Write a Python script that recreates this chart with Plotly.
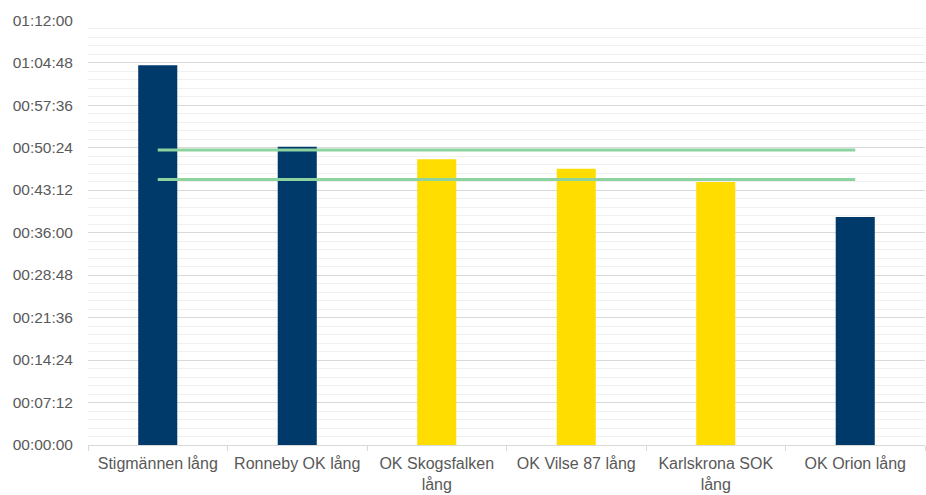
import plotly.graph_objects as go

categories = ["Stigmännen lång", "Ronneby OK lång", "OK Skogsfalken<br>lång",
              "OK Vilse 87 lång", "Karlskrona SOK<br>lång", "OK Orion lång"]
# times in seconds
bar_values = [3862, 3032, 2904, 2809, 2673, 2318]
bar_colors = ["#003A6A", "#003A6A", "#FFDD00", "#FFDD00", "#FFDD00", "#003A6A"]
line_upper = [3000, 3000]
line_lower = [2700, 2700]
tick_labels = ["00:00:00", "00:07:12", "00:14:24", "00:21:36", "00:28:48", "00:36:00",
               "00:43:12", "00:50:24", "00:57:36", "01:04:48", "01:12:00"]


def to_sec(s):
    h, m, sec = (int(p) for p in s.split(":"))
    return h * 3600 + m * 60 + sec


tick_vals = [to_sec(t) for t in tick_labels]

fig = go.Figure()
fig.add_trace(go.Bar(x=categories, y=bar_values, marker_color=bar_colors,
                     marker_line_width=0, width=0.28, showlegend=False,
                     hoverinfo="skip"))
for vals in (line_upper, line_lower):
    fig.add_trace(go.Scatter(x=[categories[0], categories[-1]], y=vals, mode="lines",
                             line=dict(color="#8CD3A0", width=3), showlegend=False,
                             hoverinfo="skip"))

fig.update_layout(
    width=926, height=495,
    margin=dict(l=88, r=1, t=20, b=50),
    plot_bgcolor="white", paper_bgcolor="white",
    font=dict(family="Liberation Sans, Arial, sans-serif", size=16, color="#595959"),
)
fig.update_yaxes(range=[0, tick_vals[-1] + 1], tickvals=tick_vals, ticktext=tick_labels,
                 showgrid=True, gridcolor="#D9D9D9", gridwidth=1, zeroline=False,
                 showline=False, ticks="", ticklabelstandoff=14, automargin=False,
                 tickfont=dict(size=15.5),
                 minor=dict(dtick=(tick_vals[1] - tick_vals[0]) / 5, showgrid=True,
                            gridcolor="#F0F0F0", gridwidth=1))
fig.update_xaxes(showline=True, linecolor="#D9D9D9", linewidth=1, ticks="outside",
                 tickson="boundaries", ticklen=5, tickcolor="#D9D9D9",
                 showgrid=False, tickangle=0, automargin=False, ticklabelstandoff=4)

fig.write_html("out.html", config={"displayModeBar": False},
               post_script="document.body.style.margin='0';"
               "document.body.style.overflow='hidden';")
